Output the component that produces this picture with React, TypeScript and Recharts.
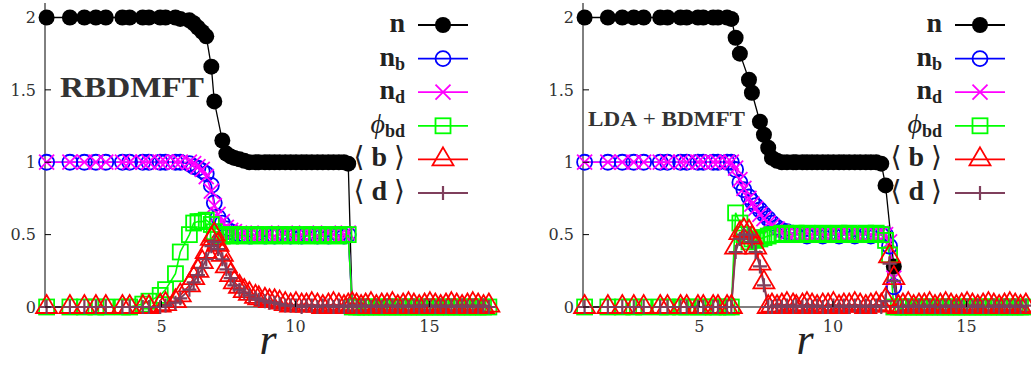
import React from 'react';
import { LineChart, Line, XAxis, YAxis } from 'recharts';

// distance r of each lattice site (same sites in both panels)
const radius = [
  0.71, 1.58, 2.12, 2.55, 2.92, 3.54, 3.81, 4.3, 4.53, 4.95,
  5.15, 5.52, 5.7, 6.04, 6.2, 6.36, 6.52, 6.67, 6.86, 6.97,
  7.11, 7.27, 7.42, 7.58, 7.72, 7.91, 8.09, 8.28, 8.51, 8.63,
  8.86, 9.03, 9.22, 9.41, 9.62, 9.82, 10.02, 10.23, 10.41, 10.61,
  10.82, 11.02, 11.23, 11.42, 11.62, 11.81, 11.97, 12.12, 12.28, 12.45,
  12.62, 12.82, 13.02, 13.22, 13.42, 13.62, 13.82, 14.02, 14.22, 14.42,
  14.62, 14.82, 15.02, 15.22, 15.42, 15.62, 15.82, 16.02, 16.22, 16.42,
  16.62, 16.82, 17.02, 17.22,
];

type Values = (number | null)[];

// ---- left panel: RBDMFT ----
const rbN: Values = [
  2, 2, 2, 2, 2, 2, 2, 2, 2, 2,
  2, 2, 1.99, 1.98, 1.96, 1.93, 1.9, 1.87, 1.66, 1.42,
  null, 1.15, 1.06, 1.04, 1.03, 1.02, 1.01, 1, 1, 1,
  1, 1, 1, 1, 1, 1, 1, 1, 1, 1,
  1, 1, 1, 1, 1, 1, 0.99, 0, null, null,
  null, null, null, null, null, null, null, null, null, null,
  null, null, null, null, null, null, null, null, null, null,
  null, null, null, null,
];
const rbNb: Values = [
  1, 1, 1, 1, 1, 1, 1, 1, 1, 1,
  1, 1, 1, 0.99, 0.97, 0.96, 0.94, 0.92, 0.84, 0.72,
  0.62, 0.58, 0.54, 0.52, 0.51, 0.5, 0.5, 0.49, 0.5, 0.5,
  0.49, 0.5, 0.49, 0.5, 0.5, 0.49, 0.5, 0.49, 0.5, 0.5,
  0.49, 0.5, 0.49, 0.5, 0.5, 0.49, 0.5, 0, null, null,
  null, null, null, null, null, null, null, null, null, null,
  null, null, null, null, null, null, null, null, null, null,
  null, null, null, null,
];
const rbNd: Values = [
  1, 1, 1, 1, 1, 1, 1, 1, 1, 1,
  1, 1, 1, 1, 0.99, 0.97, 0.95, 0.9, 0.8, 0.7,
  0.64, 0.59, 0.55, 0.53, 0.52, 0.51, 0.51, 0.5, 0.49, 0.5,
  0.51, 0.5, 0.49, 0.5, 0.51, 0.5, 0.49, 0.5, 0.51, 0.5,
  0.49, 0.5, 0.51, 0.5, 0.49, 0.5, 0.51, 0, null, null,
  null, null, null, null, null, null, null, null, null, null,
  null, null, null, null, null, null, null, null, null, null,
  null, null, null, null,
];
const rbPhi: Values = [
  0, 0, 0, 0, 0, 0, 0, 0.02, 0.04, 0.08,
  0.12, 0.23, 0.38, 0.5, 0.58, 0.59, 0.59, 0.6, 0.57, 0.52,
  0.5, 0.49, 0.5, 0.49, 0.5, 0.5, 0.49, 0.5, 0.5, 0.49,
  0.5, 0.5, 0.49, 0.5, 0.5, 0.49, 0.5, 0.5, 0.49, 0.5,
  0.5, 0.49, 0.5, 0.5, 0.49, 0.5, 0.5, 0, 0, 0,
  0, 0, 0, 0, 0, 0, 0, 0, 0, 0,
  0, 0, 0, 0, 0, 0, 0, 0, 0, 0,
  0, 0, 0, 0,
];
const rbB: Values = [
  0, 0, 0, 0, 0, 0, 0, 0, 0, 0.01,
  0.02, 0.04, 0.08, 0.15, 0.2, 0.25, 0.31, 0.38, 0.47, 0.5,
  0.43, 0.36, 0.28, 0.22, 0.17, 0.14, 0.11, 0.09, 0.07, 0.06,
  0.05, 0.04, 0.04, 0.03, 0.02, 0.01, 0.02, 0.01, 0.01, 0.02,
  0.01, 0, 0.01, 0.02, 0.01, 0, 0.01, 0.02, 0.01, 0,
  0.01, 0.02, 0, 0.01, 0.01, 0.02, 0, 0.01, 0.02, 0.01,
  0, 0.01, 0.02, 0.01, 0, 0.01, 0.02, 0.01, 0, 0.01,
  0.02, 0.01, 0, 0.01,
];
const rbD: Values = [
  0, 0, 0, 0, 0, 0, 0, 0, 0, 0,
  0.01, 0.03, 0.06, 0.12, 0.17, 0.22, 0.27, 0.33, 0.42, 0.45,
  0.4, 0.33, 0.26, 0.2, 0.15, 0.12, 0.1, 0.08, 0.06, 0.05,
  0.04, 0.03, 0.03, 0.02, 0.01, 0.01, 0.01, 0, 0.01, 0.01,
  0, 0.01, 0.01, 0, 0.01, 0, 0.01, 0.01, 0, 0.01,
  0.01, 0, 0.01, 0, 0.01, 0.01, 0, 0.01, 0, 0.01,
  0, 0.01, 0.01, 0, 0.01, 0, 0.01, 0, 0.01, 0,
  0.01, 0, 0.01, 0,
];

// ---- right panel: LDA + BDMFT ----
const ldaN: Values = [
  2, 2, 2, 2, 2, 2, 2, 2, 2, 2,
  2, 2, 2, 2, 1.99, 1.86, 1.75, null, 1.57, 1.48,
  null, 1.28, 1.19, 1.1, 1.03, 1.01, 1, 1, 1, 1,
  1, 1, 1, 1, 1, 1, 1, 1, 1, 1,
  1, 1, 1, 1, 1, 0.99, 0.84, null, 0.28, 0,
  null, null, null, null, null, null, null, null, null, null,
  null, null, null, null, null, null, null, null, null, null,
  null, null, null, null,
];
const ldaNb: Values = [
  1, 1, 1, 1, 1, 1, 1, 1, 1, 1,
  1, 1, 1, 1, 1, 0.95, 0.86, 0.81, 0.76, 0.73,
  0.7, 0.67, 0.64, 0.61, 0.58, 0.55, 0.53, 0.52, 0.51, 0.5,
  0.5, 0.49, 0.5, 0.5, 0.49, 0.5, 0.5, 0.49, 0.5, 0.5,
  0.49, 0.5, 0.5, 0.49, 0.5, 0.5, 0.5, 0.42, 0.14, 0,
  null, null, null, null, null, null, null, null, null, null,
  null, null, null, null, null, null, null, null, null, null,
  null, null, null, null,
];
const ldaNd: Values = [
  1, 1, 1, 1, 1, 1, 1, 1, 1, 1,
  1, 1, 1, 1, 1, 0.96, 0.88, 0.82, 0.75, 0.71,
  0.68, 0.64, 0.61, 0.58, 0.56, 0.54, 0.52, 0.51, 0.5, 0.51,
  0.5, 0.51, 0.5, 0.51, 0.5, 0.5, 0.51, 0.5, 0.51, 0.5,
  0.51, 0.5, 0.51, 0.5, 0.5, 0.51, 0.5, 0.45, 0.2, 0,
  null, null, null, null, null, null, null, null, null, null,
  null, null, null, null, null, null, null, null, null, null,
  null, null, null, null,
];
const ldaPhi: Values = [
  0, 0, 0, 0, 0, 0, 0, 0, 0, 0,
  0, 0, 0, 0, 0, 0.65, 0.58, 0.5, 0.45, 0.47,
  0.46, 0.47, 0.48, 0.49, 0.5, 0.5, 0.51, 0.5, 0.5, 0.51,
  0.5, 0.51, 0.5, 0.5, 0.51, 0.5, 0.5, 0.51, 0.5, 0.51,
  0.5, 0.5, 0.51, 0.5, 0.51, 0.5, 0.46, 0.36, 0, 0,
  0, 0, 0, 0, 0, 0, 0, 0, 0, 0,
  0, 0, 0, 0, 0, 0, 0, 0, 0, 0,
  0, 0, 0, 0,
];
const ldaB: Values = [
  0, 0, 0, 0, 0, 0, 0, 0, 0, 0,
  0, 0, 0, 0, 0, 0.41, 0.51, 0.53, 0.52, 0.48,
  0.41, 0.3, 0.17, 0, 0.01, 0, 0.01, 0.02, 0.01, 0,
  0.01, 0.02, 0.01, 0, 0.01, 0.01, 0.02, 0, 0.01, 0.01,
  0.02, 0.01, 0, 0.01, 0.02, 0.01, 0.05, 0.35, 0.2, 0,
  0.01, 0.02, 0, 0.01, 0.01, 0.02, 0, 0.01, 0.02, 0.01,
  0, 0.01, 0.02, 0.01, 0, 0.01, 0.02, 0.01, 0, 0.01,
  0.02, 0.01, 0, 0.01,
];
const ldaD: Values = [
  0, 0, 0, 0, 0, 0, 0, 0, 0, 0,
  0, 0, 0, 0, 0, 0.38, 0.47, 0.5, 0.5, 0.45,
  0.38, 0.28, 0.15, 0, 0, 0.01, 0, 0.01, 0, 0.01,
  0, 0.01, 0, 0.01, 0, 0, 0.01, 0, 0.01, 0,
  0.01, 0, 0.01, 0, 0.01, 0, 0.04, 0.3, 0.18, 0,
  0, 0.01, 0, 0.01, 0, 0.01, 0, 0, 0.01, 0,
  0.01, 0, 0.01, 0, 0.01, 0, 0, 0.01, 0, 0.01,
  0, 0.01, 0, 0.01,
];

const X_DOMAIN = [0.65, 17.3];
const X_TICKS = [5, 10, 15];
const Y_DOMAIN = [0, 2.1];
const Y_TICKS = [0, 0.5, 1, 1.5, 2];

const SERIF = '"Liberation Serif", "DejaVu Serif", serif';
const TICK_FONT = '"DejaVu Serif", serif';

type Shape = 'disc' | 'circle' | 'cross' | 'square' | 'tri' | 'plus';
type Key = 'n' | 'nb' | 'nd' | 'phi' | 'b' | 'd';

const SERIES: { key: Key; color: string; shape: Shape; width: number }[] = [
  { key: 'n', color: '#000000', shape: 'disc', width: 1.3 },
  { key: 'nb', color: '#0000ff', shape: 'circle', width: 1.6 },
  { key: 'nd', color: '#ff00ff', shape: 'cross', width: 1.6 },
  { key: 'phi', color: '#00ff00', shape: 'square', width: 1.6 },
  { key: 'b', color: '#ff0000', shape: 'tri', width: 1.6 },
  { key: 'd', color: '#7f3f5c', shape: 'plus', width: 1.8 },
];

const marker = (shape: Shape, cx: number, cy: number, color: string) => {
  switch (shape) {
    case 'disc':
      return <circle cx={cx} cy={cy} r={8} fill={color} />;
    case 'circle':
      return <circle cx={cx} cy={cy} r={7.5} fill="none" stroke={color} strokeWidth={1.8} />;
    case 'cross':
      return (
        <path
          d={`M${cx - 7.5},${cy - 7.5}L${cx + 7.5},${cy + 7.5}M${cx - 7.5},${cy + 7.5}L${cx + 7.5},${cy - 7.5}`}
          stroke={color}
          strokeWidth={1.8}
        />
      );
    case 'square':
      return <rect x={cx - 7.5} y={cy - 7.5} width={15} height={15} fill="none" stroke={color} strokeWidth={1.8} />;
    case 'tri':
      return (
        <path
          d={`M${cx},${cy - 12}L${cx + 10.5},${cy + 6}L${cx - 10.5},${cy + 6}Z`}
          fill="none"
          stroke={color}
          strokeWidth={1.8}
        />
      );
    default:
      return (
        <path
          d={`M${cx - 7},${cy}L${cx + 7},${cy}M${cx},${cy - 7}L${cx},${cy + 7}`}
          stroke={color}
          strokeWidth={2.2}
        />
      );
  }
};

const makeDot = (shape: Shape, color: string, name: string) => (props: any) => {
  const { cx, cy, index, payload } = props;
  const k = `${name}-${index}`;
  if (cx == null || cy == null) return <g key={k} />;
  // the density curves end on the axis without a symbol
  if (payload.v === 0 && (shape === 'disc' || shape === 'circle' || shape === 'cross')) return <g key={k} />;
  return <g key={k}>{marker(shape, cx, cy, color)}</g>;
};

const points = (vals: Values) =>
  radius.map((r, i) => ({ r, v: vals[i] })).filter((p) => p.v !== null);

const BottomTick = (p: any) => (
  <g>
    <line x1={p.x} x2={p.x} y1={p.y} y2={p.y - 6} stroke="#000" />
    <text x={p.x} y={p.y + 25} textAnchor="middle" fontFamily={TICK_FONT} fontSize={16} fill="#333">
      {p.payload.value}
    </text>
  </g>
);
const TopTick = (p: any) => <line x1={p.x} x2={p.x} y1={p.y} y2={p.y + 6} stroke="#000" />;
const LeftTick = (p: any) => (
  <g>
    <line x1={p.x} x2={p.x + 6} y1={p.y} y2={p.y} stroke="#000" />
    <text x={p.x - 9} y={p.y} dy="0.36em" textAnchor="end" fontFamily={TICK_FONT} fontSize={16} fill="#333">
      {p.payload.value}
    </text>
  </g>
);
const RightTick = (p: any) => <line x1={p.x - 6} x2={p.x} y1={p.y} y2={p.y} stroke="#000" />;

const Panel = ({ values, left, mLeft, mRight }: { values: Record<Key, Values>; left: number; mLeft: number; mRight: number }) => (
  <div style={{ position: 'absolute', left, top: 0 }}>
    <LineChart width={515} height={367} margin={{ top: 3, right: mRight, bottom: 20, left: mLeft }}>
      <XAxis dataKey="r" type="number" domain={X_DOMAIN} ticks={X_TICKS} tick={BottomTick}
        tickSize={0} tickMargin={0} tickLine={false} axisLine={{ stroke: '#000' }} height={40} />
      <XAxis xAxisId="top" orientation="top" dataKey="r" type="number" domain={X_DOMAIN} ticks={X_TICKS}
        tick={TopTick} tickSize={0} tickMargin={0} tickLine={false} axisLine={{ stroke: '#000' }} height={0} />
      <YAxis type="number" domain={Y_DOMAIN} ticks={Y_TICKS} tick={LeftTick}
        tickSize={0} tickMargin={0} tickLine={false} axisLine={{ stroke: '#000' }} width={40} />
      <YAxis yAxisId="right" orientation="right" type="number" domain={Y_DOMAIN} ticks={Y_TICKS} tick={RightTick}
        tickSize={0} tickMargin={0} tickLine={false} axisLine={{ stroke: '#000' }} width={0} />
      {SERIES.map((s) => (
        <Line
          key={s.key}
          data={points(values[s.key])}
          dataKey="v"
          type="linear"
          stroke={s.color}
          strokeWidth={s.width}
          dot={makeDot(s.shape, s.color, s.key)}
          activeDot={false}
          isAnimationActive={false}
        />
      ))}
    </LineChart>
  </div>
);

const legendLabel = (key: Key) => {
  const sub = (t: string) => (
    <tspan fontWeight="bold" fontSize={18} dy={4}>{t}</tspan>
  );
  const bracket = (t: string) => (
    <tspan fontFamily='"DejaVu Serif", serif' fontWeight="normal">{t}</tspan>
  );
  switch (key) {
    case 'n':
      return <tspan fontWeight="bold">n</tspan>;
    case 'nb':
      return <><tspan fontWeight="bold">n</tspan>{sub('b')}</>;
    case 'nd':
      return <><tspan fontWeight="bold">n</tspan>{sub('d')}</>;
    case 'phi':
      return <><tspan fontStyle="italic">ϕ</tspan>{sub('bd')}</>;
    case 'b':
      return <>{bracket('⟨')}<tspan fontWeight="bold"> b </tspan>{bracket('⟩')}</>;
    default:
      return <>{bracket('⟨')}<tspan fontWeight="bold"> d </tspan>{bracket('⟩')}</>;
  }
};

const LegendBox = ({ right }: { right: number }) => (
  <g>
    {SERIES.map((s, i) => {
      const cy = 25 + i * 33.6;
      return (
        <g key={s.key}>
          <text x={right - 86} y={cy + 7} textAnchor="end" fontFamily={SERIF} fontSize={28} fill="#222">
            {legendLabel(s.key)}
          </text>
          <line x1={right - 73} x2={right - 23} y1={cy} y2={cy} stroke={s.color} strokeWidth={1.8} />
          {marker(s.shape, right - 48, cy, s.color)}
        </g>
      );
    })}
  </g>
);

export default function App() {
  return (
    <div style={{ position: 'absolute', left: 0, top: 0, width: 1031, height: 367, background: '#fff' }}>
      <Panel values={{ n: rbN, nb: rbNb, nd: rbNd, phi: rbPhi, b: rbB, d: rbD }} left={0} mLeft={5} mRight={24} />
      <Panel values={{ n: ldaN, nb: ldaNb, nd: ldaNd, phi: ldaPhi, b: ldaB, d: ldaD }} left={516} mLeft={27} mRight={3} />
      <svg width={1031} height={367} style={{ position: 'absolute', left: 0, top: 0, pointerEvents: 'none' }}>
        <text x={60} y={97} fontFamily={SERIF} fontWeight="bold" fontSize={30} fill="#333"
          textLength={144} lengthAdjust="spacingAndGlyphs">RBDMFT</text>
        <text x={588} y={126} fontFamily={SERIF} fontSize={21} fill="#333"
          textLength={157} lengthAdjust="spacingAndGlyphs">
          <tspan fontWeight="bold">LDA</tspan> + <tspan fontWeight="bold">BDMFT</tspan>
        </text>
        <text x={268} y={354} textAnchor="middle" fontFamily={SERIF} fontStyle="italic" fontSize={44} fill="#222">r</text>
        <text x={805} y={354} textAnchor="middle" fontFamily={SERIF} fontStyle="italic" fontSize={44} fill="#222">r</text>
        <LegendBox right={491} />
        <LegendBox right={1028} />
      </svg>
    </div>
  );
}
